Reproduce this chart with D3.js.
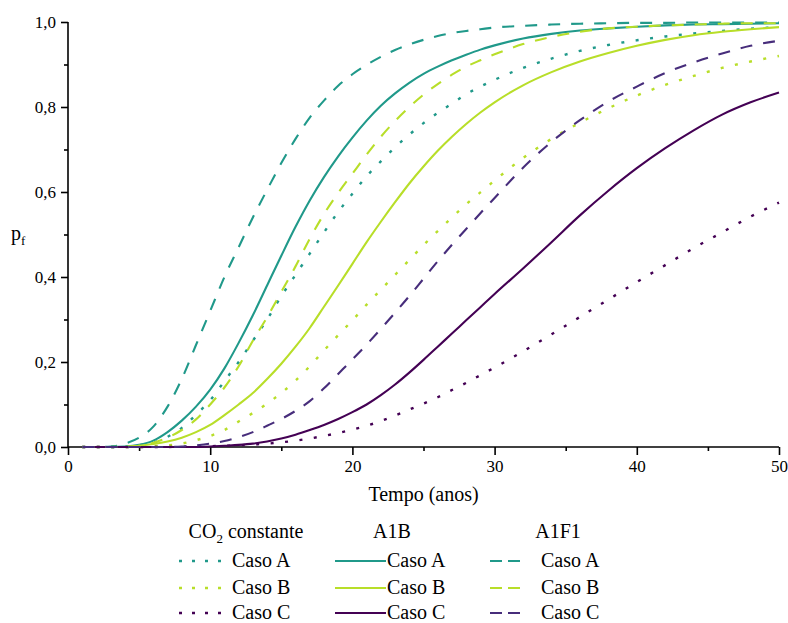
<!DOCTYPE html>
<html>
<head>
<meta charset="utf-8">
<script src="https://cdn.jsdelivr.net/npm/d3@7"></script>
<style>
  html, body { margin: 0; padding: 0; background: #fff; }
</style>
</head>
<body>
<svg id="chart" width="788" height="623"></svg>
<script>
// ---- data ----
const years = [1,2,3,4,5,6,7,8,9,10,11,12,13,14,15,16,17,18,19,20,21,22,23,24,25,26,27,28,29,30,32,34,36,38,40,42,44,46,48,50];

const co2A  = [0,0,0,0.001,0.004,0.01,0.024,0.045,0.076,0.11,0.155,0.2,0.25,0.30,0.355,0.405,0.455,0.505,0.553,0.596,0.637,0.672,0.705,0.735,0.762,0.786,0.808,0.83,0.848,0.864,0.892,0.914,0.932,0.946,0.957,0.966,0.973,0.979,0.984,0.988];
const co2B  = [0,0,0,0,0,0.002,0.004,0.008,0.016,0.026,0.04,0.06,0.08,0.102,0.127,0.156,0.19,0.227,0.263,0.298,0.335,0.37,0.405,0.44,0.475,0.508,0.54,0.571,0.599,0.627,0.68,0.725,0.763,0.797,0.827,0.852,0.873,0.892,0.907,0.92];
const co2C  = [0,0,0,0,0,0,0,0.001,0.001,0.002,0.003,0.004,0.006,0.008,0.011,0.015,0.02,0.026,0.033,0.041,0.05,0.061,0.074,0.088,0.102,0.117,0.134,0.151,0.169,0.187,0.225,0.265,0.306,0.347,0.388,0.428,0.468,0.505,0.542,0.575];

const a1bA  = [0,0,0,0.001,0.005,0.015,0.035,0.062,0.095,0.135,0.185,0.245,0.31,0.38,0.45,0.518,0.58,0.635,0.684,0.728,0.768,0.803,0.832,0.857,0.878,0.895,0.91,0.923,0.935,0.945,0.961,0.972,0.98,0.985,0.989,0.992,0.994,0.995,0.996,0.997];
const a1bB  = [0,0,0,0,0.003,0.007,0.013,0.022,0.035,0.052,0.075,0.10,0.127,0.16,0.196,0.236,0.28,0.33,0.38,0.431,0.482,0.53,0.576,0.62,0.66,0.697,0.73,0.76,0.787,0.811,0.851,0.882,0.907,0.927,0.944,0.958,0.969,0.977,0.983,0.988];
const a1bC  = [0,0,0,0,0,0,0,0,0,0.001,0.003,0.005,0.008,0.013,0.02,0.029,0.04,0.052,0.066,0.082,0.1,0.122,0.147,0.175,0.205,0.236,0.267,0.298,0.329,0.36,0.42,0.482,0.545,0.603,0.656,0.703,0.745,0.782,0.811,0.834];

const a1f1A = [0,0,0.001,0.008,0.022,0.048,0.095,0.16,0.24,0.32,0.40,0.47,0.54,0.605,0.668,0.725,0.775,0.815,0.85,0.877,0.899,0.918,0.934,0.947,0.958,0.967,0.974,0.979,0.983,0.987,0.991,0.994,0.996,0.997,0.998,0.998,0.999,0.999,0.999,0.999];
const a1f1B = [0,0,0,0.001,0.003,0.01,0.022,0.04,0.065,0.1,0.14,0.19,0.25,0.305,0.365,0.425,0.49,0.548,0.598,0.643,0.688,0.73,0.767,0.8,0.829,0.854,0.876,0.895,0.91,0.924,0.948,0.965,0.977,0.985,0.989,0.992,0.994,0.996,0.997,0.997];
const a1f1C = [0,0,0,0,0,0,0,0.001,0.004,0.008,0.014,0.023,0.035,0.05,0.066,0.085,0.108,0.138,0.172,0.206,0.241,0.278,0.316,0.355,0.396,0.437,0.476,0.513,0.55,0.586,0.657,0.718,0.769,0.813,0.848,0.88,0.905,0.926,0.944,0.956];

const groupNames = ["CO2 constante", "A1B", "A1F1"];
const caseNames = ["Caso A", "Caso B", "Caso C"];
const xTicks = [0, 10, 20, 30, 40, 50];
const yTicks = [0, 0.2, 0.4, 0.6, 0.8, 1.0];

// ---- pick an installed serif font (Times-like) ----
function pickFont(cands) {
  const ctx = document.createElement("canvas").getContext("2d");
  const sample = "Caso A Tempo (anos) 0,123456789";
  for (const f of cands) {
    let differs = false;
    for (const base of ["monospace", "sans-serif"]) {
      ctx.font = `20px ${base}`;
      const w0 = ctx.measureText(sample).width;
      ctx.font = `20px "${f}", ${base}`;
      const w1 = ctx.measureText(sample).width;
      if (Math.abs(w1 - w0) > 0.5) differs = true;
    }
    if (differs) return `"${f}", serif`;
  }
  return "serif";
}
const FONT = pickFont(["Liberation Serif", "Times New Roman", "Tinos", "Nimbus Roman", "DejaVu Serif", "Noto Serif"]);

// ---- styles ----
const colors = { A: "#20998a", B: "#b8de29", C: "#440154", Cdash: "#472d7b" };
const series = [
  { group: 0, cas: 0, values: co2A,  color: colors.A, style: "dot" },
  { group: 0, cas: 1, values: co2B,  color: colors.B, style: "dot" },
  { group: 0, cas: 2, values: co2C,  color: colors.C, style: "dot" },
  { group: 1, cas: 0, values: a1bA,  color: colors.A, style: "solid" },
  { group: 1, cas: 1, values: a1bB,  color: colors.B, style: "solid" },
  { group: 1, cas: 2, values: a1bC,  color: colors.C, style: "solid" },
  { group: 2, cas: 0, values: a1f1A, color: colors.A, style: "dash" },
  { group: 2, cas: 1, values: a1f1B, color: colors.B, style: "dash" },
  { group: 2, cas: 2, values: a1f1C, color: colors.Cdash, style: "dash" }
];
const dashPlot = { solid: null, dot: "3,11.5", dash: "12,11" };
const dashLegend = { solid: null, dot: "3,10", dash: "12,6" };

const svg = d3.select("#chart");
const x = d3.scaleLinear().domain([0, 50]).range([68, 779]);
const y = d3.scaleLinear().domain([0, 1]).range([447, 22]);
const fmt = d => d3.format(".1f")(d).replace(".", ",");

// ---- axes ----
const gx = svg.append("g").attr("transform", `translate(0,${y(0)})`);
gx.call(d3.axisBottom(x).tickValues([5,15,25,35,45]).tickSize(4).tickFormat(""));
gx.call(g => g.select(".domain").remove());
const gx2 = svg.append("g").attr("transform", `translate(0,${y(0)})`);
gx2.call(d3.axisBottom(x).tickValues(xTicks).tickSize(8).tickPadding(5).tickFormat(d3.format("d")));

const gy = svg.append("g").attr("transform", `translate(${x(0)},0)`);
gy.call(d3.axisLeft(y).tickValues([0.1,0.3,0.5,0.7,0.9]).tickSize(4).tickFormat(""));
gy.call(g => g.select(".domain").remove());
const gy2 = svg.append("g").attr("transform", `translate(${x(0)},0)`);
gy2.call(d3.axisLeft(y).tickValues(yTicks).tickSize(7).tickPadding(5).tickFormat(fmt));

svg.selectAll("g").attr("font-family", FONT);
svg.selectAll(".tick text").attr("font-size", 17).attr("fill", "#000").style("font-family", FONT);
svg.selectAll(".domain, .tick line").attr("stroke", "#000").attr("stroke-width", 1.6);
gx2.select(".domain").attr("d", `M${x(0)},0H${x(50)}`);
gy2.select(".domain").attr("d", `M0,${y(0)}V${y(1)}`);

// ---- lines ----
const line = d3.line().x(d => x(d[0])).y(d => y(d[1])).curve(d3.curveMonotoneX);
const plotG = svg.append("g");
series.forEach(s => {
  plotG.append("path")
    .datum(years.map((yr, i) => [yr, s.values[i]]))
    .attr("d", line)
    .attr("fill", "none")
    .attr("stroke", s.color)
    .attr("stroke-width", s.style === "dot" ? 2.4 : 2.1)
    .attr("stroke-dasharray", dashPlot[s.style]);
});

// ---- titles ----
svg.append("text").attr("x", x(25)).attr("y", 501).attr("text-anchor", "middle")
  .style("font-family", FONT).style("font-size", "20px").text("Tempo (anos)");
const yt = svg.append("text").attr("x", 11).attr("y", 240)
  .style("font-family", FONT).style("font-size", "20px");
yt.append("tspan").text("p");
yt.append("tspan").attr("dy", 5).style("font-size", "13px").text("f");

// ---- legend ----
const legendCols = [
  { headerX: 246, lineX0: 179, lineX1: 229, textX: 232 },
  { headerX: 392, lineX0: 335, lineX1: 386, textX: 387 },
  { headerX: 558, lineX0: 490, lineX1: 520, textX: 541 }
];
const rowY = [561, 588, 613];
legendCols.forEach((c, gi) => {
  const h = svg.append("text").attr("x", c.headerX).attr("y", 538).attr("text-anchor", "middle")
    .style("font-family", FONT).style("font-size", "20px");
  if (gi === 0) {
    h.append("tspan").text("CO");
    h.append("tspan").attr("dy", 5).style("font-size", "13px").text("2");
    h.append("tspan").attr("dy", -5).text(" constante");
  } else {
    h.text(groupNames[gi]);
  }
});
series.forEach(s => {
  const c = legendCols[s.group];
  const yy = rowY[s.cas];
  svg.append("line").attr("x1", c.lineX0).attr("x2", c.lineX1).attr("y1", yy).attr("y2", yy)
    .attr("stroke", s.color).attr("stroke-width", s.style === "dot" ? 2.4 : 2.2)
    .attr("stroke-dasharray", dashLegend[s.style]);
  svg.append("text").attr("x", c.textX).attr("y", yy + 6)
    .style("font-family", FONT).style("font-size", "20px")
    .text(caseNames[s.cas]);
});
</script>
</body>
</html>
